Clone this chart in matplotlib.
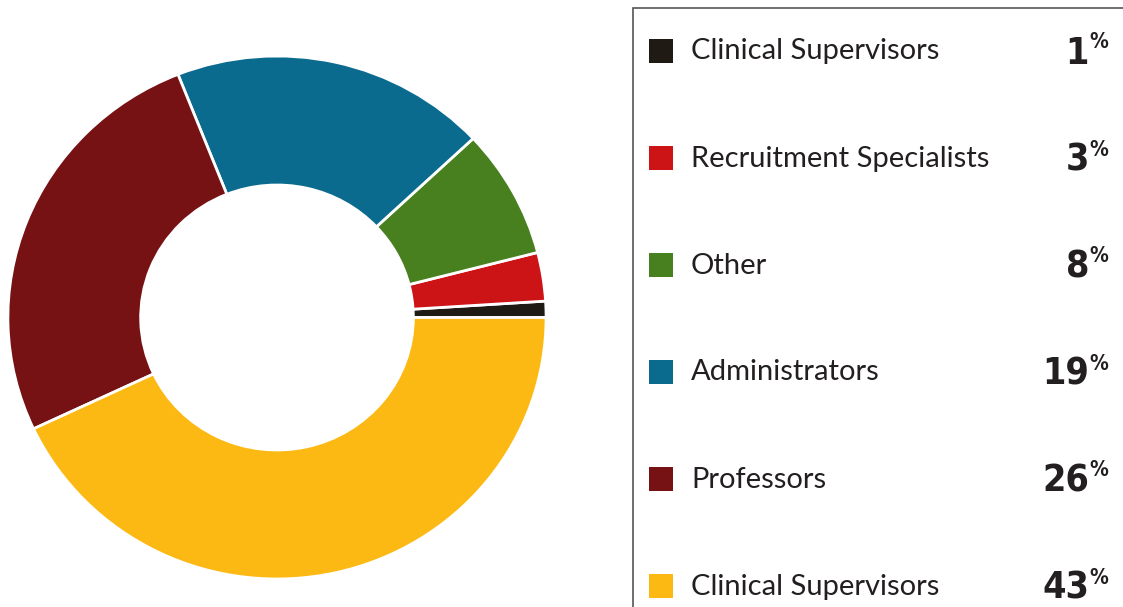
import matplotlib.pyplot as plt
from matplotlib.patches import Rectangle

labels = ["Clinical Supervisors", "Recruitment Specialists", "Other",
          "Administrators", "Professors", "Clinical Supervisors"]
values = [1, 3, 8, 19, 26, 43]
colors = ["#201a14", "#cc1417", "#48801f", "#0a6b8f", "#761114", "#fdb913"]

W, H = 1123, 607
sx = 1.029  # donut is a bit wider than tall in the original

fig = plt.figure(figsize=(W / 100, H / 100), dpi=100)

# donut axes (x squeezed so the ring comes out slightly elliptical)
ax = fig.add_axes([0, 0, 1, 1])
ax.pie(values, colors=colors, startangle=0, counterclock=True,
       center=(277 / sx, H - 317.5), radius=261.5,
       wedgeprops=dict(width=129, edgecolor="white", linewidth=2))
ax.set_xlim(0, W / sx)
ax.set_ylim(0, H)
ax.set_aspect("auto")
ax.axis("off")

# legend axes in pixel units
lg = fig.add_axes([0, 0, 1, 1])
lg.set_xlim(0, W)
lg.set_ylim(0, H)
lg.axis("off")
lg.add_patch(Rectangle((632.5, -20), 520, H - 7.5 + 20, facecolor="none",
                       edgecolor="#555555", linewidth=1.2, clip_on=False))

for i, (lab, val, col) in enumerate(zip(labels, values, colors)):
    y = H - (50.5 + 107 * i)
    lg.add_patch(Rectangle((649, y - 12), 24, 24, facecolor=col,
                           edgecolor="none"))
    lg.text(691, y - 1, lab, fontsize=21, family="Lato", color="#231f20",
            va="center", ha="left")
    lg.text(1089, y - 13, str(val), fontsize=27, family="DejaVu Sans",
            fontstretch="condensed", fontweight="bold", color="#231f20",
            va="baseline", ha="right")
    lg.text(1089, y + 18, "%", fontsize=15, family="DejaVu Sans",
            fontstretch="condensed", fontweight="bold", color="#231f20",
            va="top", ha="left")

fig.savefig("out.png", dpi=100, facecolor="white")
